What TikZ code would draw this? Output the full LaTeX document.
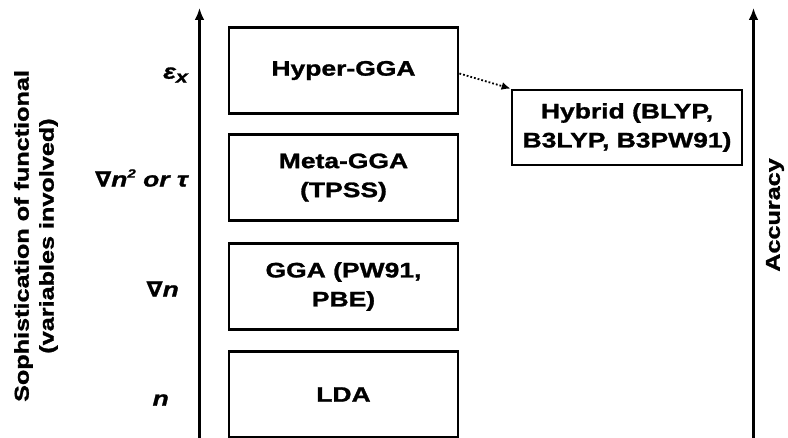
\documentclass[tikz,border=0pt]{standalone}
\usepackage{fontspec}
\setmainfont{Liberation Sans}[FakeStretch=1.26,FakeBold=1.3]
\newfontfamily\symfont{DejaVu Sans}[FakeStretch=1.1,FakeBold=1.3]
\usetikzlibrary{arrows.meta}
\newcommand{\nab}{{\symfont\bfseries\itshape\char"2207}}
\begin{document}
\begin{tikzpicture}[x=1pt,y=-1pt,
  level/.style={draw, line width=2.8pt, minimum width=229pt, minimum height=86pt,
    align=center, inner sep=0pt, font=\fontsize{21}{29}\selectfont\bfseries},
  axisline/.style={line width=2.8pt, -{Latex[length=12pt,width=10pt]}},
  varlabel/.style={anchor=east, inner sep=0pt, font=\fontsize{21}{25}\selectfont\bfseries\itshape},
  sidelabel/.style={rotate=90, align=center, inner sep=0pt, font=\fontsize{20}{25}\selectfont\bfseries}]
\useasboundingbox (0,0) rectangle (788,438);

% vertical axes
\coordinate (la0) at (199.5,440);
\coordinate (la1) at (199.5,8);
\coordinate (ra0) at (753.5,440);
\coordinate (ra1) at (753.5,8);
\draw[axisline] (la0) -- (la1);
\draw[axisline] (ra0) -- (ra1);

% rungs of the ladder
\node[level] (hyper) at (343.5,70.5) {Hyper-GGA};
\node[level] (meta)  at (343.5,177.5) {Meta-GGA\\(TPSS)};
\node[level] (gga)   at (343.5,286.5) {GGA (PW91,\\PBE)};
\node[level] (lda)   at (343.5,394.5) {LDA};
\node[level, minimum width=230pt, minimum height=75pt] (hybrid) at (627,127.5) {Hybrid (BLYP,\\B3LYP, B3PW91)};

\draw[line width=1.8pt, dotted, -{Latex[length=9pt,width=8pt]}] (hyper.east) ++(0,3) coordinate (hs) -- (hybrid.north west);

% variables on each rung
\node[varlabel] (vex)  at (188,75) {ε\raisebox{-0.35ex}{\fontsize{17}{17}\selectfont x}};
\node[varlabel] (vmeta) at (188,178) {\nab n\raisebox{0.8ex}{\fontsize{12}{12}\selectfont 2} or τ};
\node[varlabel] (vgga) at (179,289) {\nab n};
\node[varlabel] (vlda) at (169,400) {n};

% axis titles
\node[sidelabel] (soph) at (36,236) {Sophistication of functional\\(variables involved)};
\node[sidelabel] (acc) at (775,215) {Accuracy};
\end{tikzpicture}
\end{document}
